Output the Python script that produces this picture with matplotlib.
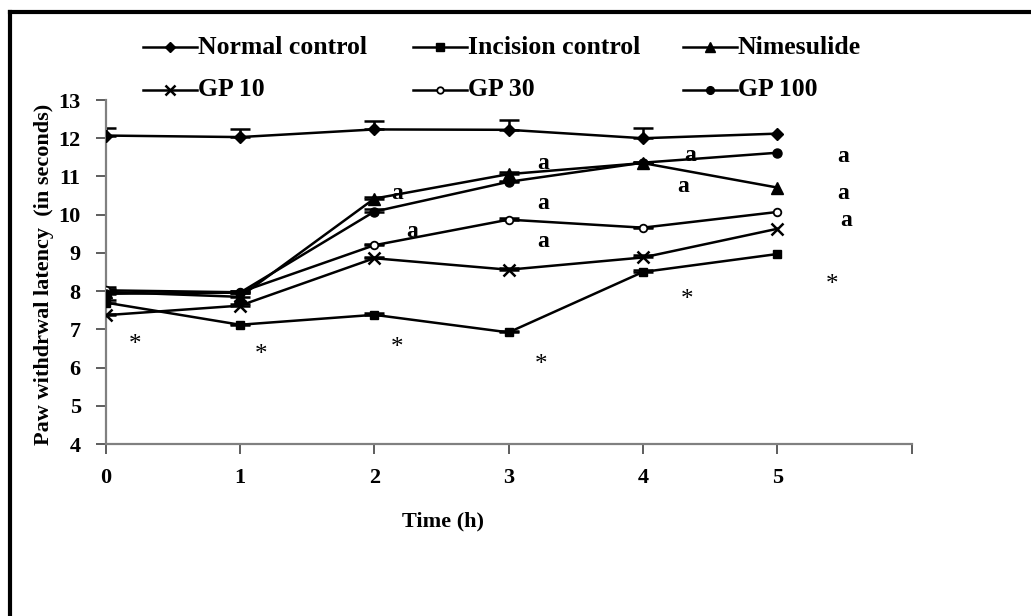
import matplotlib
matplotlib.use("Agg")
import matplotlib.pyplot as plt
from matplotlib.lines import Line2D
from matplotlib.transforms import offset_copy
import numpy as np

plt.rcParams['font.family'] = ['Liberation Serif', 'DejaVu Serif']

hours = [0, 1, 2, 3, 4, 5]
x_ticks = [0, 1, 2, 3, 4, 5, 6]
x_tick_labels = ["0", "1", "2", "3", "4", "5", ""]
y_ticks = [4, 5, 6, 7, 8, 9, 10, 11, 12, 13]

series_names = ["Normal control", "Incision control", "Nimesulide", "GP 10", "GP 30", "GP 100"]
normal_control = [12.07, 12.03, 12.23, 12.22, 12.0, 12.12]
incision_control = [7.70, 7.12, 7.38, 6.92, 8.50, 8.97]
nimesulide = [7.98, 7.85, 10.42, 11.06, 11.35, 10.71]
gp10 = [7.37, 7.62, 8.86, 8.56, 8.88, 9.63]
gp30 = [8.02, 7.97, 9.20, 9.87, 9.66, 10.07]
gp100 = [7.93, 7.96, 10.08, 10.86, 11.36, 11.62]

normal_err = [0.20, 0.20, 0.21, 0.26, 0.28, 0.0]
incision_err = [0.06, 0.03, 0.04, 0.04, 0.06, 0.0]
nimesulide_err = [0.12, 0.10, 0.03, 0.06, 0.03, 0.0]
gp10_err = [0.04, 0.03, 0.03, 0.05, 0.06, 0.0]
gp30_err = [0.03, 0.03, 0.04, 0.05, 0.03, 0.0]
gp100_err = [0.03, 0.03, 0.06, 0.03, 0.03, 0.0]

a_x = [2.17, 2.28, 3.26, 3.26, 3.26, 4.35, 4.30, 5.49, 5.49, 5.51]
a_y = [10.55, 9.55, 11.34, 10.29, 9.29, 11.55, 10.73, 11.51, 10.55, 9.84]
star_x = [0.22, 1.16, 2.17, 3.24, 4.33, 5.41]
star_y = [6.71, 6.45, 6.63, 6.19, 7.89, 8.30]

all_values = [normal_control, incision_control, nimesulide, gp10, gp30, gp100]
all_errs = [normal_err, incision_err, nimesulide_err, gp10_err, gp30_err, gp100_err]
marker_styles = [
    dict(marker='D', markersize=6.5, markerfacecolor='black'),
    dict(marker='s', markersize=6, markerfacecolor='black'),
    dict(marker='^', markersize=8, markerfacecolor='black'),
    dict(marker='x', markersize=8, markeredgewidth=1.8),
    dict(marker='o', markersize=5.5, markerfacecolor='white', markeredgewidth=1.3),
    dict(marker='o', markersize=6.5, markerfacecolor='black'),
]

W, H = 1031, 616
fig = plt.figure(figsize=(W / 100, H / 100), dpi=100)

def fx(px):
    return px / W

def fy(py):
    return 1 - py / H

ax = fig.add_axes([fx(105.7), fy(444), fx(911.5) - fx(105.7), fy(100) - fy(444)])

for vals, errs, ms in zip(all_values, all_errs, marker_styles):
    xs = np.array(hours, dtype=float)
    vs = np.array(vals, dtype=float)
    es = np.array(errs, dtype=float)
    keep = es > 0
    ax.errorbar(xs[keep], vs[keep], yerr=[np.zeros(keep.sum()), es[keep]], fmt='none',
                ecolor='black', elinewidth=1.8, capsize=7, capthick=1.8, zorder=2)
    ax.plot(hours, vals, color='black', linewidth=1.8, markeredgecolor='black', zorder=3, **ms)

for xx, yy in zip(a_x, a_y):
    ax.text(xx, yy, "a", fontsize=17, fontweight='bold', ha='center', va='center')
star_trans = offset_copy(ax.transData, fig=fig, x=0, y=-5, units='dots')
for xx, yy in zip(star_x, star_y):
    ax.text(xx, yy, "*", fontsize=18, ha='center', va='center', transform=star_trans)

ax.set_xlim(0, 6)
ax.set_ylim(4, 13)
ax.set_xticks(x_ticks)
ax.set_xticklabels(x_tick_labels)
ax.set_yticks(y_ticks)
for side in ['top', 'right']:
    ax.spines[side].set_visible(False)
for side in ['left', 'bottom']:
    ax.spines[side].set_color('#808080')
    ax.spines[side].set_linewidth(1.6)
ax.tick_params(axis='both', direction='out', length=7, width=1.3, color='#505050')
ax.tick_params(axis='x', pad=10, labelsize=16)
ax.tick_params(axis='y', pad=11, labelsize=16)
for lab in ax.get_xticklabels() + ax.get_yticklabels():
    lab.set_fontweight('bold')

fig.text(fx(443), fy(521), "Time (h)", fontsize=16, fontweight='bold', ha='center', va='center')
fig.text(fx(44), fy(274), "Paw withdrwal latency  (in seconds)", fontsize=16,
         fontweight='bold', rotation=90, ha='center', va='center')

# legend (manual layout)
col_x = [143, 413, 683]
row_y = [47, 90]
for i, (name, ms) in enumerate(zip(series_names, marker_styles)):
    c, r = i % 3, i // 3
    x0 = col_x[c]
    y0 = row_y[r]
    fig.add_artist(Line2D([fx(x0), fx(x0 + 54)], [fy(y0), fy(y0)], color='black', linewidth=1.8,
                          transform=fig.transFigure))
    ms_leg = dict(ms)
    ms_leg['markersize'] = ms['markersize'] * 0.85
    fig.add_artist(Line2D([fx(x0 + 27)], [fy(y0)], color='black', linestyle='none',
                          markeredgecolor='black', transform=fig.transFigure, **ms_leg))
    fig.text(fx(x0 + 55), fy(y0), name, fontsize=18.5, fontweight='bold', ha='left', va='center')

# outer frame (top and left edges)
fig.add_artist(Line2D([fx(10), fx(W)], [fy(12), fy(12)], color='black', linewidth=3,
                      transform=fig.transFigure))
fig.add_artist(Line2D([fx(10), fx(10)], [fy(12), fy(H)], color='black', linewidth=3,
                      transform=fig.transFigure))

fig.savefig("out.png", dpi=100)
